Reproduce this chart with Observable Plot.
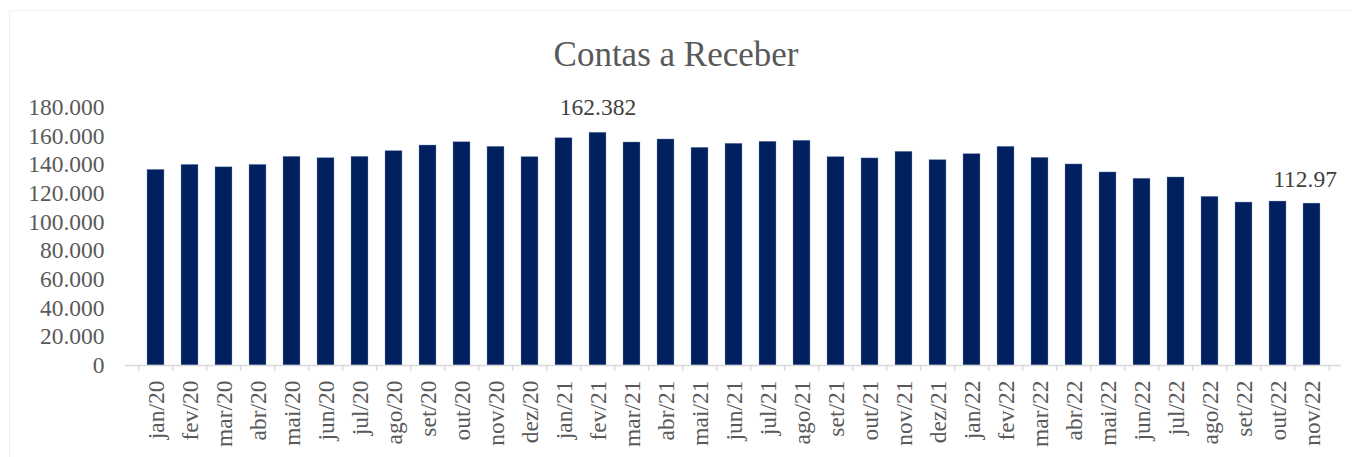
<!DOCTYPE html>
<html>
<head>
<meta charset="utf-8">
<script src="https://cdn.jsdelivr.net/npm/d3@7"></script>
<script src="https://cdn.jsdelivr.net/npm/@observablehq/plot@0.6"></script>
<style>
  html, body { margin: 0; padding: 0; background: #fff; }
  body { width: 1352px; height: 457px; position: relative; overflow: hidden; font-family: "Liberation Serif", "Times New Roman", serif; }
  #frame { position: absolute; left: 9px; top: 10px; width: 1400px; height: 500px; border-left: 1.5px solid #f0f0f0; border-top: 1.5px solid #f0f0f0; border-top-left-radius: 3px; }
  #title { position: absolute; left: 0; top: 0; width: 1352px; height: 80px; text-align: center; font-size: 35px; color: #595959; line-height: 80px; padding-top: 15px; box-sizing: border-box; }
  #chart { position: absolute; left: 0; top: 80px; }
</style>
</head>
<body>
<div id="frame"></div>
<div id="title">Contas a Receber</div>
<div id="chart"></div>
<script>
const months = ["jan/20","fev/20","mar/20","abr/20","mai/20","jun/20","jul/20","ago/20","set/20","out/20","nov/20","dez/20",
  "jan/21","fev/21","mar/21","abr/21","mai/21","jun/21","jul/21","ago/21","set/21","out/21","nov/21","dez/21",
  "jan/22","fev/22","mar/22","abr/22","mai/22","jun/22","jul/22","ago/22","set/22","out/22","nov/22"];
const values = [136500,140000,138300,140000,145600,144700,145600,149600,153500,155800,152600,145400,
  158600,162382,155600,157700,151900,154700,156100,156800,145400,144500,149100,143300,
  147500,152600,144900,140300,134700,130300,131200,117700,113700,114400,112970];
const yTicks = [0,20000,40000,60000,80000,100000,120000,140000,160000,180000];
const labelMonths = ["fev/21","nov/22"];
const labelTexts = ["162.382","112.97"];

const data = months.map((m, i) => ({month: m, value: values[i]}));
const labels = labelMonths.map((m, i) => ({month: m, value: values[months.indexOf(m)], text: labelTexts[i]}));

const W = 1352, H = 377, ML = 125, MR = 11, MT = 27, MB = 92;
const step = (W - ML - MR) / months.length;
const fmt = d => d === 0 ? "0" : d3.format(",.3f")(d / 1000).replace(/,/g, "");

const chart = Plot.plot({
  width: W, height: H,
  marginLeft: ML, marginRight: MR, marginTop: MT, marginBottom: MB,
  style: {fontFamily: "'Liberation Serif', 'Times New Roman', serif", fontSize: "23.5px", color: "#595959", background: "transparent", overflow: "visible"},
  x: {domain: months, paddingInner: 0.5, paddingOuter: 0.25, label: null},
  y: {domain: [0, 180000], label: null},
  marks: [
    Plot.barY(data, {x: "month", y: "value", fill: "#00205f", stroke: "#8ea0c4", strokeWidth: 0.6, strokeOpacity: 0.6}),
    Plot.ruleY([0], {stroke: "#d9d9d9", strokeWidth: 1.5}),
    Plot.axisY({ticks: yTicks, tickSize: 0, tickPadding: 21, tickFormat: fmt, fill: "#595959", label: null}),
    Plot.axisX({tickSize: 6, dx: -step / 2, tickFormat: () => "", stroke: "#d9d9d9", strokeWidth: 1.5, label: null}),
    Plot.axisX({ticks: [months[months.length - 1]], tickSize: 6, dx: step / 2, tickFormat: () => "", stroke: "#d9d9d9", strokeWidth: 1.5, label: null}),
    Plot.axisX({tickSize: 0, tickPadding: 15, tickRotate: -90, fill: "#595959", label: null}),
    Plot.text(labels.slice(0, 1), {x: "month", y: "value", text: "text", lineAnchor: "middle", dy: -25, fill: "#404040", fontSize: 23.5}),
    Plot.text(labels.slice(1), {x: "month", y: "value", text: "text", lineAnchor: "middle", dy: -24, dx: -7, fill: "#404040", fontSize: 23.5})
  ]
});
document.getElementById("chart").appendChild(chart);
</script>
</body>
</html>
